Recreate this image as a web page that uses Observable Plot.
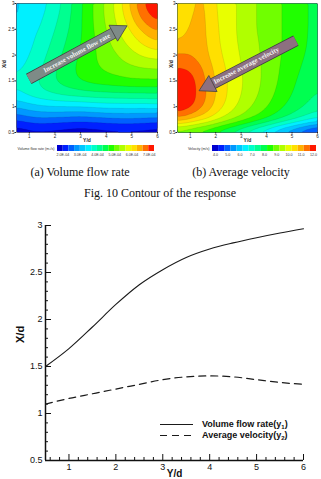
<!DOCTYPE html>
<html><head><meta charset="utf-8">
<script src="https://cdn.jsdelivr.net/npm/d3@7"></script>
<script src="https://cdn.jsdelivr.net/npm/@observablehq/plot@0.6"></script>
<style>
html,body{margin:0;padding:0;background:#fff;}
#root{position:relative;width:321px;height:479px;overflow:hidden;background:#fff;}
.cap{position:absolute;font-family:"Liberation Serif","Times New Roman",serif;font-size:12px;line-height:14px;color:#111;white-space:nowrap;transform:translateX(-50%);}
.leg{position:absolute;font-family:Arial,"Liberation Sans",sans-serif;font-weight:bold;font-size:9px;line-height:11px;color:#111;white-space:nowrap;display:flex;align-items:center;}
.leg sub{font-size:6px;vertical-align:-2px;line-height:0;}
</style></head><body><div id="root"></div>
<script>
// ---------- contour grids ----------
const gridYd = [0.5, 1, 1.5, 2, 2.5, 3, 3.5, 4, 4.5, 5, 5.5, 6];          // x (Y/d)
const gridXd = [3, 2.75, 2.5, 2.25, 2, 1.75, 1.5, 1.25, 1, 0.75, 0.5];      // y (X/d)
// Volume flow rate, ×1E-04 m3/s
const volumeFlowGrid = [
  [3.25, 3.50, 3.58, 3.80, 4.20, 4.60, 5.00, 5.40, 5.85, 6.45, 7.05, 7.28],
  [3.28, 3.52, 3.63, 3.90, 4.25, 4.62, 5.00, 5.38, 5.80, 6.30, 6.85, 7.15],
  [3.32, 3.56, 3.70, 4.00, 4.30, 4.62, 4.98, 5.32, 5.68, 6.05, 6.45, 6.75],
  [3.40, 3.60, 3.80, 4.10, 4.38, 4.65, 4.95, 5.25, 5.52, 5.82, 6.10, 6.30],
  [3.50, 3.66, 3.90, 4.20, 4.45, 4.70, 4.95, 5.15, 5.35, 5.55, 5.72, 5.82],
  [3.60, 3.75, 4.00, 4.30, 4.55, 4.75, 4.92, 5.05, 5.15, 5.25, 5.32, 5.35],
  [3.72, 3.85, 4.10, 4.35, 4.55, 4.70, 4.80, 4.85, 4.90, 4.95, 4.95, 4.95],
  [3.60, 3.80, 3.95, 4.05, 4.15, 4.20, 4.25, 4.28, 4.30, 4.32, 4.33, 4.35],
  [3.05, 3.20, 3.30, 3.35, 3.35, 3.35, 3.40, 3.45, 3.45, 3.45, 3.45, 3.50],
  [2.35, 2.55, 2.60, 2.55, 2.50, 2.45, 2.50, 2.55, 2.60, 2.60, 2.55, 2.50],
  [1.75, 1.80, 1.80, 1.78, 1.75, 1.72, 1.75, 1.78, 1.80, 1.80, 1.78, 1.75]
];
// Average velocity, m/s
const velocityGrid = [
  [10.10, 10.65, 10.90, 10.20, 10.00, 9.60, 9.30, 9.05, 8.80, 8.55, 8.30, 8.10],
  [10.25, 10.75, 10.95, 10.25, 10.00, 9.60, 9.30, 9.05, 8.80, 8.55, 8.30, 8.10],
  [10.45, 10.85, 10.95, 10.30, 10.00, 9.60, 9.30, 9.05, 8.80, 8.55, 8.30, 8.10],
  [10.75, 11.00, 10.95, 10.35, 10.00, 9.65, 9.35, 9.10, 8.80, 8.55, 8.30, 8.05],
  [11.30, 11.25, 11.00, 10.45, 10.05, 9.70, 9.40, 9.10, 8.80, 8.50, 8.25, 8.00],
  [11.80, 11.70, 11.25, 10.60, 10.15, 9.75, 9.45, 9.10, 8.75, 8.45, 8.15, 7.90],
  [12.15, 12.00, 11.40, 10.70, 10.20, 9.80, 9.45, 9.10, 8.70, 8.35, 8.05, 7.80],
  [12.22, 12.05, 11.45, 10.75, 10.20, 9.75, 9.40, 9.00, 8.60, 8.25, 7.95, 7.70],
  [12.20, 11.95, 11.30, 10.60, 10.05, 9.60, 9.20, 8.80, 8.40, 8.05, 7.75, 7.45],
  [11.20, 10.85, 10.45, 9.95, 9.50, 9.10, 8.70, 8.30, 7.90, 7.50, 7.10, 6.75],
  [8.60, 8.40, 8.10, 7.80, 7.40, 7.00, 6.50, 6.00, 5.40, 4.90, 4.40, 3.90]
];
const volumeThresholds = [1.69,2.02,2.35,2.68,3.01,3.34,3.67,4.00,4.33,4.66,4.99,5.32,5.65,5.98,6.31,6.64,6.97,7.30];
const velocityThresholds = [3.75,4.25,4.75,5.25,5.75,6.25,6.75,7.25,7.75,8.25,8.75,9.25,9.75,10.25,10.75,11.25,11.75,12.25];
const bandColors = ["#0000d0","#0020ff","#0060ff","#0098ff","#00c8ff","#00f0ff","#00ffc8","#00ff90","#00ff50","#20ff00","#70ff00","#b0ff00","#e8ff00","#ffe000","#ffb000","#ff7000","#ff1800"];
const volumeBarTicks = [2, 3, 4, 5, 6, 7];
const velocityBarTicks = [4, 5, 6, 7, 8, 9, 10, 11, 12];
const panelXTicks = [1, 2, 3, 4, 5, 6];
const panelYTicks = [0.5, 1, 1.5, 2, 2.5, 3];
const arrowVolume = [{x1: 0.98, y1: 1.54, x2: 4.82, y2: 2.57, label: "Increase volume flow rate", tx: 2.85, ty: 2.04}];
const arrowVelocity = [{x1: 5.15, y1: 2.28, x2: 1.35, y2: 1.31, label: "Increase average velocity", tx: 3.2, ty: 1.80}];

// ---------- line chart ----------
const lineYd = [0.5, 1, 1.5, 2, 2.5, 3, 3.5, 4, 4.5, 5, 5.5, 6];
const volumeFlowXd = [1.50, 1.69, 1.92, 2.16, 2.37, 2.53, 2.66, 2.75, 2.815, 2.87, 2.92, 2.965];
const avgVelocityXd = [1.10, 1.16, 1.21, 1.26, 1.31, 1.36, 1.39, 1.40, 1.39, 1.36, 1.33, 1.31];
const xMajorTicks = [1, 2, 3, 4, 5, 6];
const yMajorTicks = [0.5, 1, 1.5, 2, 2.5, 3];

const root = document.getElementById("root");
const SANS = "Arial, 'Liberation Sans', sans-serif";
const SERIF = "'Liberation Serif', 'Times New Roman', serif";

function place(el, left, top) {
  el.style.position = "absolute"; el.style.left = left + "px"; el.style.top = top + "px";
  root.appendChild(el);
}
function lerp(a, b, t) { return a + (b - a) * t; }

function contourPanel({grid, thresholds, arrow, arrowFill, headRotate, textRotate, width, marginLeft, marginRight, xdDx}) {
  const pts = gridXd.flatMap((y, j) => gridYd.map((x, i) => ({x, y, v: grid[j][i]})));
  const neck = 0.872, head = 0.905;
  return Plot.plot({
    width, height: 146, marginLeft, marginRight, marginTop: 3, marginBottom: 14,
    x: {domain: [0.5, 6]}, y: {domain: [0.5, 3]},
    color: {type: "threshold", domain: thresholds.slice(1, thresholds.length - 1), range: bandColors},
    style: {fontFamily: SANS, fontSize: "4.5px", background: "transparent", color: "#222"},
    marks: [
      Plot.contour(pts, {x: "x", y: "y", fill: "v", interpolate: "barycentric", thresholds, blur: 2,
        stroke: "#000", strokeOpacity: 0.22, strokeWidth: 0.4}),
      Plot.frame({stroke: "#555", strokeWidth: 0.5}),
      Plot.axisX(panelXTicks, {tickSize: 1.5, tickPadding: 0.5, fontSize: 4.5, label: null}),
      Plot.axisY(panelYTicks, {tickSize: 1.5, tickPadding: 0.5, fontSize: 4.5, tickFormat: d => String(d), label: null}),
      Plot.text(["Y/d"], {frameAnchor: "bottom", dy: 6, lineAnchor: "top", text: d => d, fontWeight: "bold", fontSize: 5}),
      Plot.text(["X/d"], {frameAnchor: "left", dx: xdDx, rotate: -90, text: d => d, fontWeight: "bold", fontSize: 5}),
      Plot.link(arrow, {x1: "x1", y1: "y1", x2: d => lerp(d.x1, d.x2, neck), y2: d => lerp(d.y1, d.y2, neck), stroke: "#404040", strokeWidth: 11.5}),
      Plot.link(arrow, {x1: "x1", y1: "y1", x2: d => lerp(d.x1, d.x2, neck), y2: d => lerp(d.y1, d.y2, neck), stroke: arrowFill, strokeWidth: 10}),
      Plot.dot(arrow, {x: d => lerp(d.x1, d.x2, head), y: d => lerp(d.y1, d.y2, head), symbol: "triangle", r: 6.7, rotate: headRotate, fill: arrowFill, stroke: "#404040", strokeWidth: 0.7}),
      Plot.text(arrow, {x: "tx", y: "ty", text: "label", rotate: textRotate, fill: "#f2f2f2", fontFamily: SERIF, fontWeight: "bold", fontSize: 6.8})
    ]
  });
}

function colorBar({thresholds, ticks, tickFormat, title, width, marginLeft, marginRight}) {
  const bands = bandColors.map((c, i) => ({lo: thresholds[i], hi: thresholds[i + 1], c}));
  return Plot.plot({
    width, height: 20, marginLeft, marginRight, marginTop: 4, marginBottom: 10,
    x: {domain: [thresholds[0], thresholds[thresholds.length - 1]]},
    style: {fontFamily: SANS, fontSize: "3.6px", background: "transparent", color: "#333"},
    marks: [
      Plot.rect(bands, {x1: "lo", x2: "hi", fill: "c"}),
      Plot.axisX(ticks, {tickSize: 0, tickPadding: 2, tickFormat, fontSize: 3.6, label: null}),
      Plot.text([title], {frameAnchor: "left", dx: -3, textAnchor: "end", text: d => d, fontSize: 3.6})
    ]
  });
}

place(contourPanel({grid: volumeFlowGrid, thresholds: volumeThresholds, arrow: arrowVolume, arrowFill: "#7e8b87",
  headRotate: 61.6, textRotate: -28.4, width: 160, marginLeft: 16, marginRight: 3, xdDx: -12.5}), 0, 0);
place(contourPanel({grid: velocityGrid, thresholds: velocityThresholds, arrow: arrowVelocity, arrowFill: "#8d7080",
  headRotate: 242.7, textRotate: -27.3, width: 161, marginLeft: 17, marginRight: 4, xdDx: -6}), 160, 0);
place(colorBar({thresholds: volumeThresholds, ticks: volumeBarTicks, tickFormat: d => d.toFixed(1) + "E-04",
  title: "Volume flow rate (m³/s)", width: 160, marginLeft: 57, marginRight: 6}), 0, 141);
place(colorBar({thresholds: velocityThresholds, ticks: velocityBarTicks, tickFormat: d => d.toFixed(1),
  title: "Velocity (m/s)", width: 161, marginLeft: 52, marginRight: 5}), 160, 141);

function caption(text, cx, top) {
  const d = document.createElement("div"); d.className = "cap"; d.textContent = text;
  d.style.left = cx + "px"; d.style.top = top + "px"; root.appendChild(d);
}
caption("(a) Volume flow rate", 80, 165);
caption("(b) Average velocity", 241, 165);
caption("Fig. 10 Contour of the response", 160, 186);

// ---------- bottom line chart ----------
const lineData = lineYd.map((x, i) => ({x, vol: volumeFlowXd[i], vel: avgVelocityXd[i]}));
const xMinorTicks = d3.range(0.6, 6.001, 0.2).filter(v => Math.abs(v - Math.round(v)) > 1e-6);
const yMinorTicks = d3.range(0.6, 3.001, 0.1).filter(v => Math.abs(v * 2 - Math.round(v * 2)) > 1e-6);
place(Plot.plot({
  width: 321, height: 274, marginLeft: 45, marginRight: 18, marginTop: 20, marginBottom: 19,
  x: {domain: [0.5, 6]}, y: {domain: [0.5, 3]},
  style: {fontFamily: SANS, fontSize: "9px", background: "transparent", color: "#111"},
  marks: [
    Plot.axisX(xMinorTicks, {tickSize: -3, tickFormat: () => "", label: null}),
    Plot.axisY(yMinorTicks, {tickSize: -3, tickFormat: () => "", label: null}),
    Plot.axisX(xMajorTicks, {tickSize: -6, tickPadding: 9, tickFormat: d => String(d), label: null}),
    Plot.axisY(yMajorTicks, {tickSize: -6, tickPadding: 9, tickFormat: d => String(d), label: null}),
    Plot.ruleX([0.5], {stroke: "#111", strokeWidth: 1.5}),
    Plot.ruleY([0.5], {stroke: "#111", strokeWidth: 1.5}),
    Plot.line(lineData, {x: "x", y: "vol", curve: "monotone-x", stroke: "#1a1a1a", strokeWidth: 1.1}),
    Plot.line(lineData, {x: "x", y: "vel", curve: "monotone-x", stroke: "#1a1a1a", strokeWidth: 1.2, strokeDasharray: "7,5"}),
    Plot.text(["Y/d"], {frameAnchor: "bottom", dy: 9.5, lineAnchor: "top", text: d => d, fontWeight: "bold", fontSize: 10}),
    Plot.text(["X/d"], {frameAnchor: "left", dx: -25, rotate: -90, text: d => d, fontWeight: "bold", fontSize: 11})
  ]
}), 0, 205);

// legend overlay
function legendRow(top, dash, html) {
  const row = document.createElement("div"); row.className = "leg";
  row.style.left = "160px"; row.style.top = top + "px";
  const ns = "http://www.w3.org/2000/svg";
  const svg = document.createElementNS(ns, "svg");
  svg.setAttribute("width", "42"); svg.setAttribute("height", "11");
  const ln = document.createElementNS(ns, "line");
  ln.setAttribute("x1", "0"); ln.setAttribute("x2", "33"); ln.setAttribute("y1", "5.5"); ln.setAttribute("y2", "5.5");
  ln.setAttribute("stroke", "#1a1a1a"); ln.setAttribute("stroke-width", "1.2");
  if (dash) ln.setAttribute("stroke-dasharray", dash);
  svg.appendChild(ln); row.appendChild(svg);
  const t = document.createElement("span"); t.innerHTML = html; row.appendChild(t);
  root.appendChild(row);
}
legendRow(418.5, null, "Volume flow rate(y<sub>1</sub>)");
legendRow(429.5, "7,5", "Average velocity(y<sub>2</sub>)");
</script></body></html>
